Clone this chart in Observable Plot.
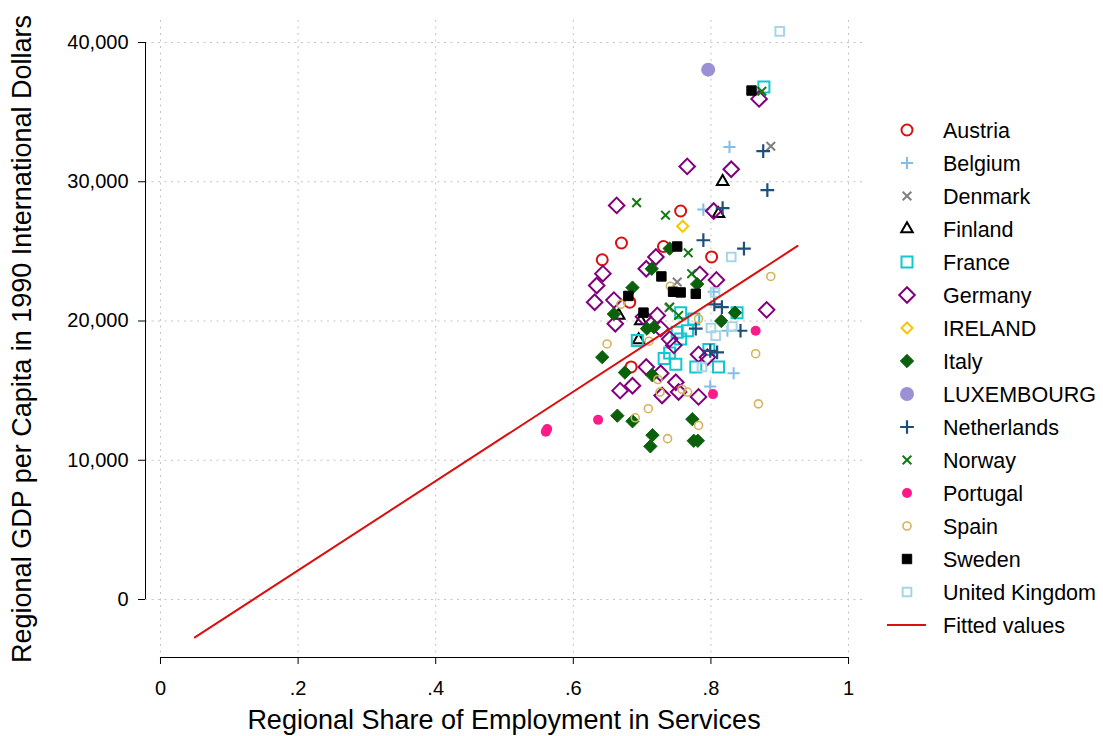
<!DOCTYPE html>
<html><head><meta charset="utf-8">
<script src="https://cdn.jsdelivr.net/npm/d3@7"></script>
<script src="https://cdn.jsdelivr.net/npm/@observablehq/plot@0.6"></script>
<style>
body{margin:0;background:#fff;font-family:Arial,"Liberation Sans",sans-serif;}
#wrap{position:relative;width:1103px;height:736px;overflow:hidden;}
#legend{position:absolute;left:880px;top:113px;}
</style></head><body><div id="wrap"><div id="chart"></div><svg id="legend" width="223" height="530"></svg></div>
<script>
// ---- data (x = services share, y = GDP per capita) ----
const austria = [[0.756,27900],[0.670,25600],[0.731,25350],[0.642,24400],[0.801,24600],[0.682,21350],[0.684,16700]];
const belgium = [[0.827,32500],[0.789,28000],[0.804,22100],[0.824,19300],[0.833,16250],[0.799,15300]];
const denmark = [[0.887,32550],[0.751,22800],[0.739,20950]];
const finland = [[0.817,30000],[0.811,27700],[0.666,20400],[0.698,20000],[0.695,18650]];
const france = [[0.877,36800],[0.838,20600],[0.756,20600],[0.775,20150],[0.751,19200],[0.766,19300],[0.756,18700],[0.693,18600],[0.797,17950],[0.732,17300],[0.740,17700],[0.749,16900],[0.778,16700],[0.811,16700]];
const germany = [[0.870,35950],[0.7655,31100],[0.8295,30900],[0.663,28300],[0.804,27900],[0.720,24600],[0.706,23750],[0.643,23400],[0.634,22550],[0.631,21350],[0.659,21500],[0.661,19800],[0.702,20300],[0.722,20400],[0.727,19450],[0.740,18700],[0.746,18250],[0.784,23350],[0.808,22950],[0.881,20800],[0.782,17600],[0.795,17400],[0.782,14550],[0.668,15000],[0.686,15350],[0.706,16700],[0.727,16250],[0.749,15600],[0.729,14650],[0.753,14900]];
const ireland = [[0.759,26800]];
const italy = [[0.740,25200],[0.714,23750],[0.686,22400],[0.659,20500],[0.707,19450],[0.717,19550],[0.642,17400],[0.780,22650],[0.835,20600],[0.815,20000],[0.675,16300],[0.715,16100],[0.664,13200],[0.686,12800],[0.715,11800],[0.712,11000],[0.773,12950],[0.775,11400],[0.781,11400]];
const luxembourg = [[0.796,38050]];
const netherlands = [[0.876,32200],[0.882,29400],[0.817,28100],[0.789,25800],[0.848,25200],[0.778,19450],[0.805,21200],[0.816,21000],[0.843,19300],[0.799,17850],[0.809,17750]];
const norway = [[0.874,36500],[0.692,28500],[0.734,27600],[0.767,24900],[0.772,23400],[0.740,21000],[0.753,20400]];
const portugal = [[0.562,12250],[0.560,12050],[0.636,12900],[0.865,19300],[0.803,14750]];
const spain = [[0.669,21200],[0.741,22500],[0.710,18550],[0.782,20150],[0.649,18350],[0.887,23200],[0.865,17650],[0.869,14050],[0.782,12500],[0.723,15800],[0.726,14900],[0.758,15100],[0.766,14900],[0.709,13700],[0.690,13050],[0.737,11550]];
const sweden = [[0.859,36550],[0.751,25350],[0.728,23200],[0.745,22100],[0.756,22050],[0.778,21950],[0.680,21800],[0.702,20600]];
const uk = [[0.900,40800],[0.8295,24600],[0.806,22050],[0.800,19500],[0.807,18950],[0.831,19600],[0.787,16700]];
const fitX = [0.05, 0.926];
const fitY = [-2725, 25390];

const xTicks = [0, 0.2, 0.4, 0.6, 0.8, 1];
const xTickLabels = ["0", ".2", ".4", ".6", ".8", "1"];
const yTicks = [0, 10000, 20000, 30000, 40000];
const xTitle = "Regional Share of Employment in Services";
const yTitle = "Regional GDP per Capita in 1990 International Dollars";

// ---- styles ----
const series = [
  {name:"Austria", data:austria, symbol:"circle", color:"#d81010", filled:false, r:5.5, sw:2},
  {name:"Belgium", data:belgium, symbol:"plus", color:"#85bde8", filled:false, r:4, sw:2},
  {name:"Denmark", data:denmark, symbol:"times", color:"#7f7f7f", filled:false, r:4, sw:2},
  {name:"Finland", data:finland, symbol:"triangle2", color:"#000000", filled:false, r:5.5, sw:2},
  {name:"France", data:france, symbol:"square2", color:"#12c8d0", filled:false, r:7, sw:2},
  {name:"Germany", data:germany, symbol:"diamond2", color:"#82007f", filled:false, r:7, sw:2},
  {name:"IRELAND", data:ireland, symbol:"diamond2", color:"#f7c600", filled:false, r:5, sw:2},
  {name:"Italy", data:italy, symbol:"diamond2", color:"#0b610b", filled:true, r:6, sw:1},
  {name:"LUXEMBOURG", data:luxembourg, symbol:"circle", color:"#9a90d6", filled:true, r:7, sw:0},
  {name:"Netherlands", data:netherlands, symbol:"plus", color:"#1f4e79", filled:false, r:4.5, sw:2.2},
  {name:"Norway", data:norway, symbol:"times", color:"#117a11", filled:false, r:4, sw:2},
  {name:"Portugal", data:portugal, symbol:"circle", color:"#ff1a8a", filled:true, r:5, sw:0},
  {name:"Spain", data:spain, symbol:"circle", color:"#d6b25a", filled:false, r:4, sw:1.6},
  {name:"Sweden", data:sweden, symbol:"square2", color:"#000000", filled:true, r:6, sw:1},
  {name:"United Kingdom", data:uk, symbol:"square2", color:"#a6d6e6", filled:false, r:5.5, sw:2}
];
const fitColor = "#d81010";

const xDomain = [-0.0218, 1.0203];
const yDomain = [-4165, 41580];
const font = "Arial, 'Liberation Sans', sans-serif";

const dotMarks = series.map(s => Plot.dot(s.data.map(([x, y]) => ({x, y})), {
  x: "x", y: "y", symbol: s.symbol, r: s.r,
  fill: s.filled ? s.color : "none",
  stroke: s.sw > 0 ? s.color : "none",
  strokeWidth: s.sw
}));
const fitted = fitX.map((x, i) => ({x, y: fitY[i]}));

const chart = Plot.plot({
  width: 1103, height: 736,
  marginLeft: 145, marginRight: 241, marginTop: 20, marginBottom: 79,
  style: {fontFamily: font, fontSize: "20px", color: "#000", background: "#fff"},
  x: {domain: xDomain},
  y: {domain: yDomain},
  marks: [
    Plot.gridY(yTicks, {stroke: "#c4c4c4", strokeOpacity: 1, strokeDasharray: "2,4.5"}),
    Plot.gridX(xTicks, {stroke: "#c4c4c4", strokeOpacity: 1, strokeDasharray: "2,4.5"}),
    Plot.ruleY([yDomain[0]], {x1: xTicks[0], x2: xTicks[xTicks.length - 1], stroke: "#000", strokeWidth: 1}),
    Plot.ruleX([xDomain[0]], {y1: yTicks[0], y2: yTicks[yTicks.length - 1], stroke: "#000", strokeWidth: 1}),
    Plot.axisX(xTicks, {tickSize: 7, tickPadding: 16, fontSize: 20, label: null,
      tickFormat: d => xTickLabels[xTicks.indexOf(d)]}),
    Plot.axisY(yTicks, {tickSize: 7, tickPadding: 10, fontSize: 20, label: null,
      tickFormat: d3.format(",")}),
    ...dotMarks,
    Plot.line(fitted, {x: "x", y: "y", stroke: fitColor, strokeWidth: 2}),
    Plot.text([xTitle], {frameAnchor: "bottom", dy: 63, fontSize: 27, lineAnchor: "middle", textAnchor: "middle", fill: "#000"}),
    Plot.text([yTitle], {frameAnchor: "left", dx: -123, rotate: -90, fontSize: 27, lineAnchor: "middle", textAnchor: "middle", fill: "#000"})
  ]
});
document.getElementById("chart").appendChild(chart);

// ---- legend ----
const symMap = {circle: d3.symbolCircle, plus: d3.symbolPlus, times: d3.symbolTimes,
  triangle2: d3.symbolTriangle2, square2: d3.symbolSquare2, diamond2: d3.symbolDiamond2};
const leg = d3.select("#legend");
const rowH = 33, y0 = 17;
series.forEach((s, i) => {
  const g = leg.append("g").attr("transform", `translate(0,${y0 + i * rowH})`);
  g.append("path")
    .attr("transform", "translate(27,0)")
    .attr("d", d3.symbol(symMap[s.symbol], Math.PI * s.r * s.r)())
    .attr("fill", s.filled ? s.color : "none")
    .attr("stroke", s.sw > 0 ? s.color : "none")
    .attr("stroke-width", s.sw);
  g.append("text").attr("x", 63).attr("dy", "0.35em")
    .attr("font-family", font).attr("font-size", 21.5).attr("fill", "#000").text(s.name);
});
const gf = leg.append("g").attr("transform", `translate(0,${y0 + series.length * rowH})`);
gf.append("line").attr("x1", 7).attr("x2", 46).attr("stroke", fitColor).attr("stroke-width", 2);
gf.append("text").attr("x", 63).attr("dy", "0.35em")
  .attr("font-family", font).attr("font-size", 21.5).attr("fill", "#000").text("Fitted values");
</script>
</body></html>
